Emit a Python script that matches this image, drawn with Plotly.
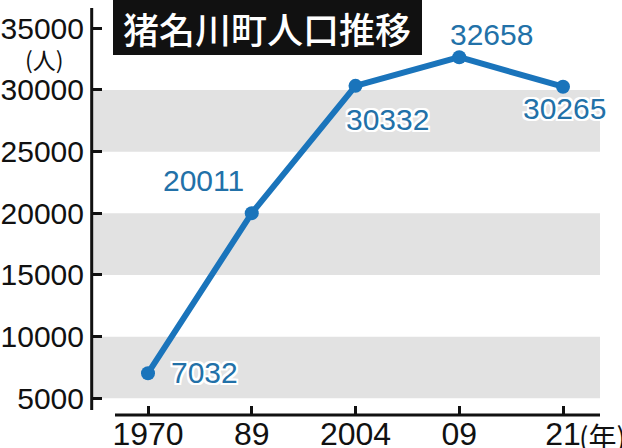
import plotly.graph_objects as go

# ---- data ----
years = ["1970", "89", "2004", "09", "21"]
population = [7032, 20011, 30332, 32658, 30265]
y_ticks = [5000, 10000, 15000, 20000, 25000, 30000, 35000]
bands = [(5000, 10000), (15000, 20000), (25000, 30000)]
title_text = "猪名川町人口推移"
y_unit = "(人)"
x_unit = "(年)"

# label offsets (pixels) relative to each point
label_dx = [56, -48, 32, 32, 1]
label_dy = [1, 33, -34, 23, -22]

LINE = "#1a74bb"
LABEL = "#2271a8"
NUM_FONT = "Liberation Sans, Arial, sans-serif"
CJK_FONT = "Noto Sans CJK JP, sans-serif"

W, H = 622, 448
L, R, T, B = 91, 22, 8, 32
pw, ph = W - L - R, H - T - B

def px_x(p):
    return (p - L) / pw

def px_y(p):
    return (H - B - p) / ph

fig = go.Figure()
fig.add_trace(go.Scatter(
    x=years, y=population, mode="lines+markers",
    line=dict(color=LINE, width=6),
    marker=dict(color=LINE, size=14),
    hoverinfo="skip", cliponaxis=False,
))

shapes = []
for a, b in bands:
    shapes.append(dict(type="rect", xref="paper", yref="y", x0=px_x(93), x1=1,
                       y0=a, y1=b, fillcolor="#e2e2e2", line=dict(width=0), layer="below"))
shapes.append(dict(type="line", xref="paper", yref="paper", x0=px_x(91.7), x1=px_x(91.7),
                   y0=px_y(410), y1=1, line=dict(color="#111", width=3)))
shapes.append(dict(type="line", xref="paper", yref="paper", x0=px_x(115), x1=1,
                   y0=px_y(415), y1=px_y(415), line=dict(color="#111", width=3)))
shapes.append(dict(type="rect", xref="paper", yref="paper", x0=px_x(113), x1=px_x(422),
                   y0=px_y(55), y1=px_y(0), fillcolor="#111", line=dict(width=0), layer="above"))

halo = ", ".join(f"{dx}px {dy}px 0 #fff" for dx in (-2, 0, 2) for dy in (-2, 0, 2) if dx or dy)

annotations = []
for i, (y, dx, dy) in enumerate(zip(population, label_dx, label_dy)):
    annotations.append(dict(x=i, y=y, xref="x", yref="y", text=str(y), showarrow=False,
                            xshift=dx, yshift=dy, xanchor="center", yanchor="middle",
                            font=dict(family=NUM_FONT, size=30, color=LABEL, shadow=halo)))
annotations.append(dict(x=px_x(267), y=px_y(28), xref="paper", yref="paper", text=title_text,
                        showarrow=False, xanchor="center", yanchor="middle",
                        font=dict(family=CJK_FONT, size=36, color="#fff", weight=500)))
annotations.append(dict(x=px_x(44), y=px_y(59), xref="paper", yref="paper", text=y_unit,
                        showarrow=False, xanchor="center", yanchor="middle",
                        font=dict(family=CJK_FONT, size=23, color="#111")))
annotations.append(dict(x=px_x(577), y=px_y(436), xref="paper", yref="paper", text=x_unit,
                        showarrow=False, xanchor="left", yanchor="middle",
                        font=dict(family=CJK_FONT, size=28, color="#111")))

fig.update_layout(
    width=W, height=H, margin=dict(l=L, r=R, t=T, b=B, autoexpand=False),
    paper_bgcolor="#fff", plot_bgcolor="#fff", showlegend=False,
    shapes=shapes, annotations=annotations,
    xaxis=dict(type="category", range=[(91 - 148) / 103.75, (600 - 148) / 103.75],
               showgrid=False, zeroline=False, showline=False, automargin=False,
               ticks="inside", ticklen=10, tickwidth=3, tickcolor="#111",
               ticklabelstandoff=-4,
               tickfont=dict(family=NUM_FONT, size=32, color="#111"), fixedrange=True),
    yaxis=dict(range=[3565, 36646], tickvals=y_ticks, ticktext=[str(v) for v in y_ticks],
               showgrid=False, zeroline=False, showline=False, automargin=False,
               ticks="inside", ticklen=11, tickwidth=3, tickcolor="#111",
               ticklabelstandoff=6,
               tickfont=dict(family=NUM_FONT, size=30, color="#111"), fixedrange=True),
)
fig.write_html("out.html", config={"staticPlot": True},
               post_script="document.body.style.margin='0';document.body.style.overflow='hidden';")
